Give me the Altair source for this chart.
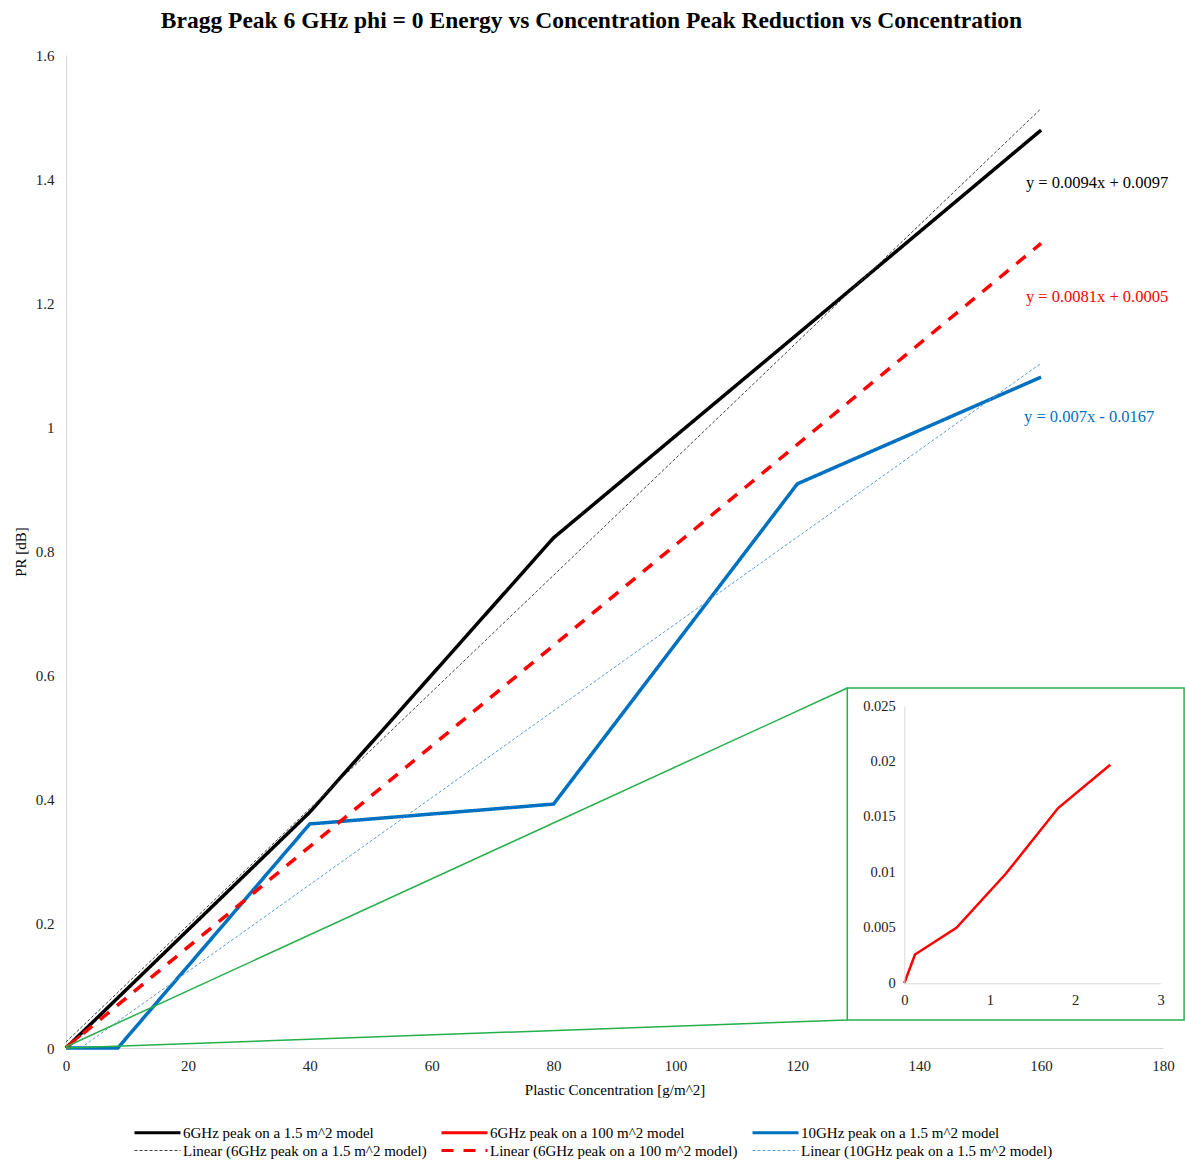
import altair as alt
import pandas as pd

SERIF = "Liberation Serif"

# ---- data ----
s_black = "6GHz peak on a 1.5 m^2 model"
s_red = "6GHz peak on a 100 m^2 model"
s_blue = "10GHz peak on a 1.5 m^2 model"
s_lin_black = "Linear (6GHz peak on a 1.5 m^2 model)"
s_lin_red = "Linear (6GHz peak on a 100 m^2 model)"
s_lin_blue = "Linear (10GHz peak on a 1.5 m^2 model)"
series_order = [s_black, s_red, s_blue, s_lin_black, s_lin_red, s_lin_blue]
series_colors = ["#000000", "#FF0000", "#0070C0", "#404040", "#FF0000", "#5B9BD5"]
series_dash = [[1, 0], [1, 0], [1, 0], [3, 2], [12, 10], [3, 2]]
series_width = [3.5, 2.5, 3.5, 1, 3.5, 1]

x_black = [0, 40, 80, 120, 160]
y_black = [0, 0.38, 0.822, 1.15, 1.479]

x_red = [0, 0.125, 0.61, 1.19, 1.80, 2.41]
y_red = [0, 0.0026, 0.0050, 0.0099, 0.0158, 0.0197]

x_blue = [0, 8.5, 40, 80, 120, 160]
y_blue = [0, 0, 0.361, 0.393, 0.909, 1.081]

# trendline end points (from the displayed equations)
x_lin_black = [0, 160]
y_lin_black = [0.0097, 1.5137]
x_lin_red = [0, 160]
y_lin_red = [0.0005, 1.2965]
x_lin_blue = [2.4, 160]
y_lin_blue = [0.0, 1.1033]

eq_text = ["y = 0.0094x + 0.0097", "y = 0.0081x + 0.0005", "y = 0.007x - 0.0167"]
eq_x = [157.5, 157.5, 157.2]
eq_y = [1.394, 1.210, 1.017]
eq_color = ["#000000", "#FF0000", "#0070C0"]

x_ticks = list(range(0, 181, 20))
y_ticks = [0, 0.2, 0.4, 0.6, 0.8, 1.0, 1.2, 1.4, 1.6]
inset_x_ticks = [0, 1, 2, 3]
inset_y_ticks = [0, 0.005, 0.01, 0.015, 0.02, 0.025]

# zoom decoration (in main data coordinates)
zoom_box = {"x": [128.2], "x2": [183.46], "y": [0.0451], "y2": [0.580]}
zoom_lines = {"x": [0, 0], "y": [0.002, 0.0], "x2": [128.2, 128.2], "y2": [0.580, 0.0451]}

W, H = 1097, 993
PAD_L, PAD_T = 66, 55

rows = []
for name, xs, ys in [
    (s_black, x_black, y_black),
    (s_red, x_red, y_red),
    (s_blue, x_blue, y_blue),
    (s_lin_black, x_lin_black, y_lin_black),
    (s_lin_red, x_lin_red, y_lin_red),
    (s_lin_blue, x_lin_blue, y_lin_blue),
]:
    for i, (a, b) in enumerate(zip(xs, ys)):
        rows.append({"series": name, "x": a, "y": b, "order": i})
df = pd.DataFrame(rows)
df["w"] = df["series"].map(dict(zip(series_order, series_width)))

xscale = alt.Scale(domain=[0, 180], nice=False)
yscale = alt.Scale(domain=[0, 1.6], nice=False)

thin_expr = "(datum.value == '%s' || datum.value == '%s') ? 1 : 3" % (s_lin_black, s_lin_blue)
legend = alt.Legend(
    title=None, orient="none", legendX=84, legendY=1070, columns=3, direction="horizontal",
    symbolType="stroke", symbolSize=2116, labelFont=SERIF, labelFontSize=15,
    labelColor="#000000", labelLimit=400, columnPadding=8, rowPadding=2,
    symbolStrokeWidth=alt.ExprRef(thin_expr), labelOffset=18,
)

lines = alt.Chart(df).mark_line().encode(
    x=alt.X("x:Q", scale=xscale, title="Plastic Concentration [g/m^2]",
            axis=alt.Axis(values=x_ticks, grid=False, ticks=False, domainColor="#d9d9d9",
                          labelPadding=10, titlePadding=9, format="~g", labelFlush=False)),
    y=alt.Y("y:Q", scale=yscale, title="PR [dB]",
            axis=alt.Axis(values=y_ticks, grid=False, ticks=False, domainColor="#d9d9d9",
                          labelPadding=12, titlePadding=7, format="~g", labelFlush=False)),
    color=alt.Color("series:N", scale=alt.Scale(domain=series_order, range=series_colors), legend=legend),
    strokeDash=alt.StrokeDash("series:N", scale=alt.Scale(domain=series_order, range=series_dash), legend=legend),
    strokeWidth=alt.StrokeWidth("w:Q", scale=None),
    order="order:Q",
)

eq_df = pd.DataFrame({"text": eq_text, "x": eq_x, "y": eq_y, "c": eq_color})
eqs = alt.Chart(eq_df).mark_text(align="left", baseline="middle", font=SERIF, fontSize=16.5).encode(
    x=alt.X("x:Q", scale=xscale), y=alt.Y("y:Q", scale=yscale),
    text="text:N", color=alt.Color("c:N", scale=None),
)

zl = alt.Chart(pd.DataFrame(zoom_lines)).mark_rule(color="#25B04B", strokeWidth=1.5).encode(
    x=alt.X("x:Q", scale=xscale), y=alt.Y("y:Q", scale=yscale), x2="x2:Q", y2="y2:Q",
)
zb = alt.Chart(pd.DataFrame(zoom_box)).mark_rect(fillOpacity=0, stroke="#25B04B", strokeWidth=1.5).encode(
    x=alt.X("x:Q", scale=xscale), y=alt.Y("y:Q", scale=yscale), x2="x2:Q", y2="y2:Q",
)

main = alt.layer(lines, eqs, zl, zb)

# inset, positioned with explicit scale ranges in pixels of the plot area
ix0, ix1 = 838.3, 1094.7
iy0, iy1 = 928.3, 651.0
inset_df = pd.DataFrame({"x": x_red, "y": y_red})
inset = alt.Chart(inset_df).mark_line(color="#FF0000", strokeWidth=2.5).encode(
    x=alt.X("x:Q", scale=alt.Scale(domain=[0, 3], range=[ix0, ix1], nice=False), title=None,
            axis=alt.Axis(values=inset_x_ticks, orient="bottom", offset=iy0 - H, grid=False, ticks=False,
                          domainColor="#d9d9d9", labelPadding=10, labelFontSize=14.5, zindex=1,
                          labelFlush=False)),
    y=alt.Y("y:Q", scale=alt.Scale(domain=[0, 0.025], range=[iy0, iy1], nice=False), title=None,
            axis=alt.Axis(values=inset_y_ticks, orient="left", offset=-ix0, grid=False, ticks=False,
                          domainColor="#d9d9d9", labelPadding=9, labelFontSize=14.5, format="~g", zindex=1,
                          labelFlush=False)),
)

chart = alt.layer(main, inset).resolve_scale(x="independent", y="independent").properties(
    width=W, height=H,
    autosize=alt.AutoSizeParams(type="none"),
    padding={"left": PAD_L, "top": PAD_T, "right": 1185 - PAD_L - W, "bottom": 1171 - PAD_T - H},
    title=alt.Title("Bragg Peak 6 GHz phi = 0 Energy vs Concentration Peak Reduction vs Concentration",
                    font=SERIF, fontSize=23.5, fontWeight="bold", color="#000000", offset=16, dx=-23),
).configure(background="white").configure_view(stroke=None).configure_axis(
    labelFont=SERIF, labelFontSize=15, labelColor="#222222", titleFont=SERIF, titleFontSize=15,
    titleFontWeight="normal", titleColor="#000000",
)

chart.save("out.html", embed_options={"renderer": "svg", "actions": False})
